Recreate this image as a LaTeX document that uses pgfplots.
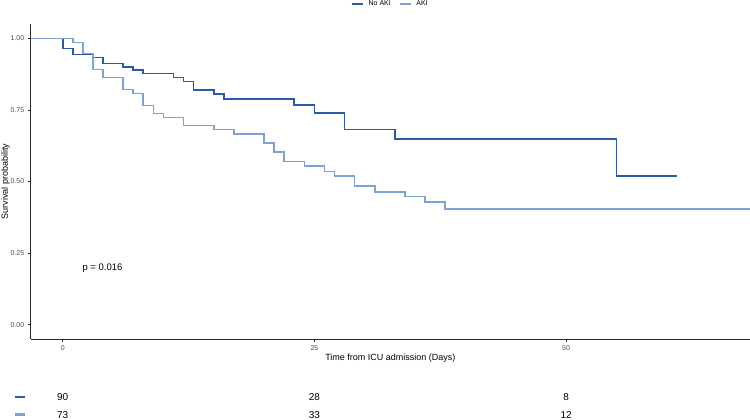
\documentclass[border=0pt]{standalone}
\usepackage{pgfplots}
\pgfplotsset{compat=1.18}
\usepackage{fontspec}
\setmainfont{Liberation Sans}

\definecolor{noaki}{HTML}{2B5BA8}
\definecolor{aki}{HTML}{7DA3D6}
\definecolor{ticktxt}{HTML}{4D4D4D}

\begin{document}
\begin{tikzpicture}
\begin{axis}[
    at={(0pt,0pt)}, anchor=south west,
    scale only axis,
    width=719.3pt, height=315pt,
    xmin=-3.18, xmax=68.27,
    ymin=-0.05, ymax=1.05,
    axis x line*=bottom, axis y line*=left,
    axis line style={line width=0.9pt, color=black!85},
    xtick={0,25,50},
    ytick={0,0.25,0.5,0.75,1},
    yticklabel style={/pgf/number format/.cd, fixed, fixed zerofill, precision=2},
    /pgf/number format/assume math mode=true,
    tick align=outside,
    major tick length=3pt,
    tick style={line width=0.6pt, color=black!85},
    ticklabel style={font=\fontsize{7}{8}\selectfont, color=ticktxt},
    xlabel={Time from ICU admission (Days)},
    ylabel={Survival probability},
    label style={font=\fontsize{9}{10}\selectfont},
    xlabel style={yshift=3pt},
    ylabel style={yshift=-6pt},
    clip=false,
    legend columns=2,
    legend style={at={(0.5,1)}, anchor=center, yshift=20pt, draw=none,
        font=\fontsize{7}{8}\selectfont, inner sep=0pt,
        /tikz/every odd column/.append style={column sep=3pt},
        /tikz/every even column/.append style={column sep=6pt}},
    legend image code/.code={\draw[#1, line width=1.6pt] (0pt,0pt) -- (11pt,0pt);},
]

% Kaplan-Meier steps
\addplot[const plot mark left, color=noaki, line width=1.6pt] coordinates {
    (-3.18,1)(0,0.965)(1,0.944)(3,0.933)(4,0.912)(6,0.900)(7,0.889)(8,0.877)
    (11,0.863)(12,0.849)(13,0.819)(15,0.805)(16,0.789)(23,0.768)(25,0.740)
    (28,0.682)(33,0.649)(55,0.519)(61,0.519)
};
\addplot[const plot mark left, color=aki, line width=1.6pt] coordinates {
    (-3.18,1)(1,0.986)(2,0.947)(3,0.891)(4,0.863)(6,0.821)(7,0.807)(8,0.766)
    (9,0.738)(10,0.724)(12,0.696)(15,0.682)(17,0.666)(20,0.634)(21,0.603)
    (22,0.570)(24,0.554)(26,0.535)(27,0.519)(29,0.484)(31,0.463)(34,0.447)
    (36,0.429)(38,0.405)(68.27,0.405)
};
\legend{No AKI, AKI}

\node[font=\fontsize{9.5}{10}\selectfont] at (axis cs:3.95,0.196) {p = 0.016};

% risk table
\addplot[forget plot, color=noaki, line width=2.5pt] coordinates {(-4.74,-0.253)(-3.75,-0.253)};
\addplot[forget plot, color=aki, line width=2.5pt] coordinates {(-4.74,-0.3143)(-3.75,-0.3143)};
\node[font=\fontsize{10}{11}\selectfont] at (axis cs:0,-0.2544) {90};
\node[font=\fontsize{10}{11}\selectfont] at (axis cs:25,-0.2544) {28};
\node[font=\fontsize{10}{11}\selectfont] at (axis cs:50,-0.2544) {8};
\node[font=\fontsize{10}{11}\selectfont] at (axis cs:0,-0.3153) {73};
\node[font=\fontsize{10}{11}\selectfont] at (axis cs:25,-0.3153) {33};
\node[font=\fontsize{10}{11}\selectfont] at (axis cs:50,-0.3153) {12};
\end{axis}
\pgfresetboundingbox
\useasboundingbox (-30.7pt,-81pt) rectangle (719.3pt,339pt);
\end{tikzpicture}
\end{document}
